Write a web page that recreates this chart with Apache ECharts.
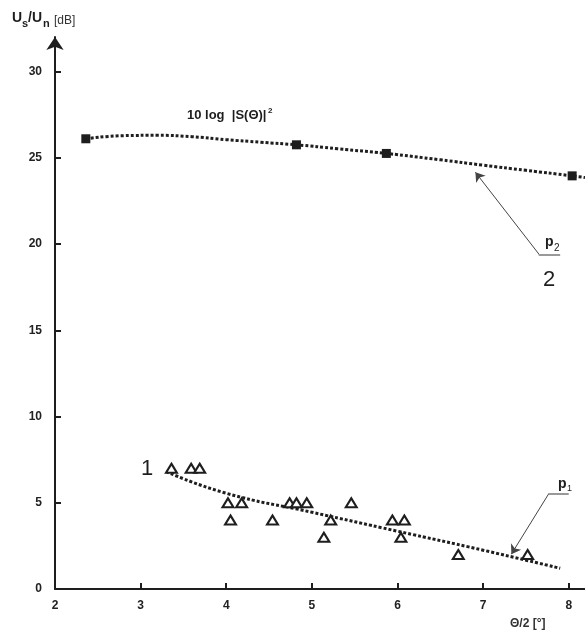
<!DOCTYPE html>
<html>
<head>
<meta charset="utf-8">
<script src="https://cdn.jsdelivr.net/npm/echarts@6/dist/echarts.min.js"></script>
<style>
  html, body { margin: 0; padding: 0; background: #fff; }
  #chart { width: 585px; height: 632px; }
</style>
</head>
<body>
<div id="chart"></div>
<script>
// measured points, curve 2 (squares) and curve 1 (triangles)
const squarePts = [[2.36, 26.1], [4.82, 25.75], [5.87, 25.25], [8.04, 23.95]];
const fit2 = [[2.36, 26.1], [2.8, 26.28], [3.2, 26.3], [3.6, 26.22], [4.0, 26.05], [4.4, 25.9],
  [4.82, 25.75], [5.3, 25.52], [5.87, 25.25], [6.5, 24.88], [7.0, 24.57], [7.5, 24.27],
  [8.04, 23.95], [8.19, 23.85]];
const trianglePts = [[3.36, 7], [3.59, 7], [3.69, 7], [4.02, 5], [4.18, 5], [4.05, 4], [4.54, 4],
  [4.74, 5], [4.82, 5], [4.94, 5], [5.22, 4], [5.14, 3], [5.46, 5], [5.94, 4], [6.08, 4],
  [6.04, 3], [6.71, 2], [7.52, 2]];
const fit1 = [[3.3, 6.8], [4, 5.55], [5, 4.45], [6, 3.35], [7, 2.25], [7.9, 1.2]];
const xTicks = [2, 3, 4, 5, 6, 7, 8];
const yTicks = [0, 5, 10, 15, 20, 25, 30];

const chart = echarts.init(document.getElementById('chart'));
const font = 'Liberation Sans, Arial, sans-serif';
const ink = '#1e1e1e';

// text helper, y is the vertical middle of the text
function txt(x, y, text, size, bold, color) {
  return {
    type: 'text', silent: true,
    style: {
      x: x, y: y, text: text, fontSize: size, fontWeight: bold ? 'bold' : 'normal',
      fontFamily: font, fill: color || ink, verticalAlign: 'middle'
    }
  }
}

const option = {
  animation: false,
  backgroundColor: '#fff',
  grid: { left: 55, right: 0, top: 37, bottom: 43 },
  xAxis: {
    type: 'value', min: 2, max: 8.19,
    splitLine: { show: false },
    axisLine: { lineStyle: { color: ink, width: 2 } },
    axisTick: { inside: true, length: 6, customValues: xTicks.slice(1), lineStyle: { color: ink, width: 2 } },
    axisLabel: { customValues: xTicks, margin: 11, color: '#222', fontWeight: 'bold', fontSize: 12, fontFamily: font }
  },
  yAxis: {
    type: 'value', min: 0, max: 32,
    splitLine: { show: false },
    axisLine: { show: true, symbol: ['none', 'arrow'], symbolSize: [13, 13], lineStyle: { color: ink, width: 2 } },
    axisTick: { show: true, inside: true, length: 6, customValues: yTicks.slice(1), lineStyle: { color: ink, width: 2 } },
    axisLabel: { customValues: yTicks, margin: 13, color: '#222', fontWeight: 'bold', fontSize: 12, fontFamily: font }
  },
  series: [
    {
      type: 'line', data: fit2, smooth: true, showSymbol: false, z: 2,
      lineStyle: { color: ink, width: 3, type: [3, 2] },
      markLine: {
        silent: true, symbolSize: 9, label: { show: false },
        lineStyle: { color: '#444', width: 1, type: 'solid' },
        data: [
          [{ coord: [7.66, 19.36], symbol: 'none' }, { coord: [6.91, 24.16], symbol: 'arrow' }],
          [{ coord: [7.65, 19.36], symbol: 'none', lineStyle: { color: '#999', width: 2 } }, { coord: [7.9, 19.36], symbol: 'none' }]
        ]
      }
    },
    {
      type: 'scatter', data: squarePts, symbol: 'rect', symbolSize: 9, z: 3,
      itemStyle: { color: ink, opacity: 1 }
    },
    {
      type: 'line', data: fit1, smooth: true, showSymbol: false, z: 2,
      lineStyle: { color: ink, width: 3, type: [3, 2] },
      markLine: {
        silent: true, symbolSize: 9, label: { show: false },
        lineStyle: { color: '#444', width: 1, type: 'solid' },
        data: [
          [{ coord: [7.77, 5.55], symbol: 'none' }, { coord: [7.33, 2.02], symbol: 'arrow' }],
          [{ coord: [7.77, 5.55], symbol: 'none', lineStyle: { color: '#999', width: 2 } }, { coord: [8.0, 5.55], symbol: 'none' }]
        ]
      }
    },
    {
      type: 'scatter', data: trianglePts, symbol: 'triangle', symbolSize: [11, 9], z: 4,
      itemStyle: { color: '#fff', borderColor: ink, borderWidth: 2, opacity: 1 }
    }
  ],
  graphic: [
    // y axis title
    txt(12, 18.4, 'U', 14, true),
    txt(22, 24.2, 's', 11, true),
    txt(28, 18.4, '/U', 14, true),
    txt(43, 24.2, 'n', 11, true),
    txt(54, 20.8, '[dB]', 12, false, '#333'),
    // x axis title
    txt(510, 623.5, 'Θ/2 [°]', 12, true, '#333'),
    // curve 2 formula
    txt(187, 115, '10 log  |S(Θ)|', 13, true),
    txt(268, 110.5, '2', 8, true),
    // curve numbers
    txt(141, 469, '1', 22, false),
    txt(543, 280, '2', 22, false),
    // p labels
    txt(545, 242.5, 'p', 14, true),
    txt(554, 248, '2', 10, false),
    txt(558, 484.5, 'p', 14, true),
    txt(567, 489, '1', 9, false)
  ]
};

chart.setOption(option);
</script>
</body>
</html>
